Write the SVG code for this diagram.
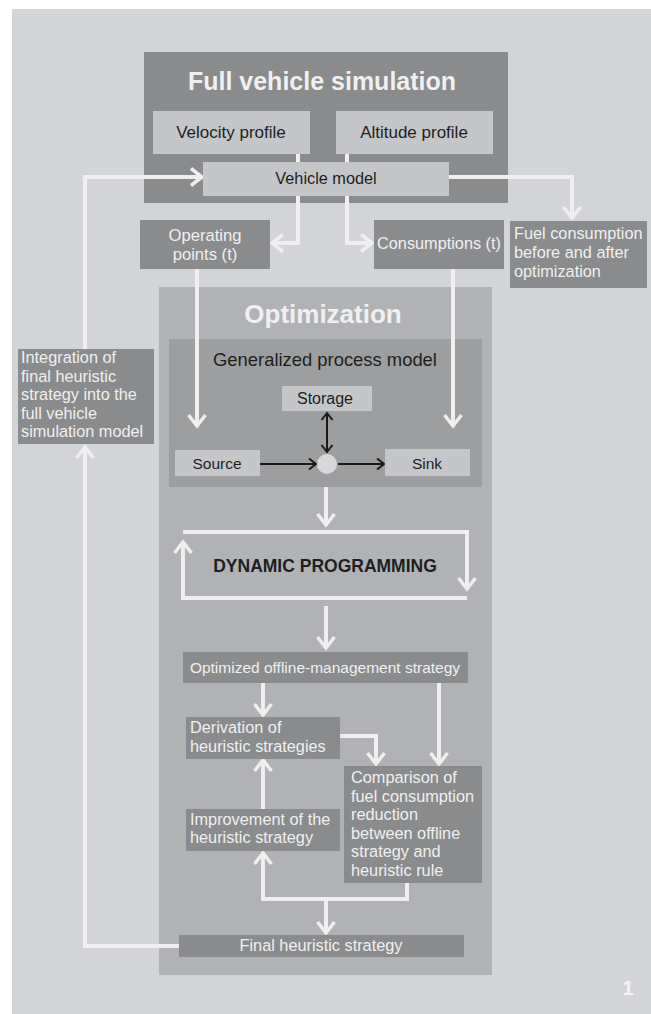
<svg xmlns="http://www.w3.org/2000/svg" width="651" height="1014" viewBox="0 0 651 1014">
<style>
.bg{fill:#d3d4d8}
.dark{fill:#8a8b8d}
.light{fill:#c5c6c9}
.opt{fill:#b1b2b5}
.gen{fill:#9d9ea0}
.t{font-family:"Liberation Sans",Arial,sans-serif;font-size:16.3px}
.tl{fill:#f0f0f0}
.td{fill:#1e1e1e}
.c{text-anchor:middle}
.title{font-family:"Liberation Sans",Arial,sans-serif;font-weight:bold;font-size:25px;fill:#f0f0f0;text-anchor:middle}
.w{fill:none;stroke:#efefef;stroke-width:4;stroke-linejoin:miter}
.k{fill:none;stroke:#1a1a1a;stroke-width:2}
</style>
<defs>
<marker id="aw" markerUnits="userSpaceOnUse" markerWidth="24" markerHeight="24" viewBox="-14 -12 18 24" refX="0" refY="0" orient="auto">
<path d="M-11,-8.5 L0,0 L-11,8.5" fill="none" stroke="#efefef" stroke-width="3.5"/>
</marker>
<marker id="ak" markerUnits="userSpaceOnUse" markerWidth="16" markerHeight="16" viewBox="-10 -8 12 16" refX="0" refY="0" orient="auto-start-reverse">
<path d="M-7,-5.5 L0,0 L-7,5.5" fill="none" stroke="#1a1a1a" stroke-width="2"/>
</marker>
</defs>
<rect x="0" y="0" width="651" height="1014" fill="#ffffff"/>
<rect class="bg" x="12" y="9" width="639" height="1005"/>

<g id="full-vehicle-simulation">
<rect class="dark" x="144" y="52" width="364" height="151"/>
<text class="title" x="322" y="90">Full vehicle simulation</text>
</g>
<g id="optimization">
<rect class="opt" x="159" y="287" width="333" height="688"/>
<text class="title" x="323" y="323" style="font-size:26px">Optimization</text>
</g>
<g id="generalized-process-model">
<rect class="gen" x="169" y="339" width="313" height="148"/>
<text class="t td c" x="325" y="366" style="font-size:18.4px">Generalized process model</text>
</g>

<g id="connectors">
<path class="w" d="M298,154 V243 H272" marker-end="url(#aw)"/>
<path class="w" d="M347,154 V243 H372" marker-end="url(#aw)"/>
<path class="w" d="M449,177 H572 V218" marker-end="url(#aw)"/>
<path class="w" d="M85,349 V177 H202" marker-end="url(#aw)"/>
<path class="w" d="M179,946 H85 V447" marker-end="url(#aw)"/>
<path class="w" d="M197,269 V426" marker-end="url(#aw)"/>
<path class="w" d="M453,269 V426" marker-end="url(#aw)"/>
<path class="w" d="M326,487 V525" marker-end="url(#aw)"/>
<path class="w" d="M183,532 H467 V589" marker-end="url(#aw)"/>
<path class="w" d="M467,598 H183 V542" marker-end="url(#aw)"/>
<path class="w" d="M326,606 V648" marker-end="url(#aw)"/>
<path class="w" d="M263,683 V715" marker-end="url(#aw)"/>
<path class="w" d="M439,683 V764" marker-end="url(#aw)"/>
<path class="w" d="M340,736 H376 V764" marker-end="url(#aw)"/>
<path class="w" d="M263,809 V760" marker-end="url(#aw)"/>
<path class="w" d="M407,883 V899 H263 V853" marker-end="url(#aw)"/>
<path class="w" d="M326,899 V933" marker-end="url(#aw)"/>
<path class="k" d="M260,464 H316" marker-end="url(#ak)"/>
<path class="k" d="M338,464 H384" marker-end="url(#ak)"/>
<path class="k" d="M327,413 V452" marker-start="url(#ak)" marker-end="url(#ak)"/>
</g>

<g id="velocity-profile">
<rect class="light" x="153" y="111" width="157" height="43"/>
<text class="t td c" x="231" y="138" style="font-size:17px">Velocity profile</text>
</g>
<g id="altitude-profile">
<rect class="light" x="336" y="111" width="157" height="43"/>
<text class="t td c" x="414" y="138" style="font-size:17px">Altitude profile</text>
</g>
<g id="vehicle-model">
<rect class="light" x="203" y="162" width="246" height="34"/>
<text class="t td c" x="326" y="184">Vehicle model</text>
</g>
<g id="operating-points">
<rect class="dark" x="140" y="220" width="130" height="49"/>
<text class="t tl c" x="205" y="241" style="font-size:16.6px">Operating</text>
<text class="t tl c" x="205" y="259.5" style="font-size:16.6px">points (t)</text>
</g>
<g id="consumptions">
<rect class="dark" x="374" y="220" width="130" height="49"/>
<text class="t tl c" x="439" y="249">Consumptions (t)</text>
</g>
<g id="fuel-consumption">
<rect class="dark" x="510" y="221" width="137" height="67"/>
<text class="t tl" x="514" y="239">Fuel consumption</text>
<text class="t tl" x="514" y="258">before and after</text>
<text class="t tl" x="514" y="277">optimization</text>
</g>
<g id="integration">
<rect class="dark" x="18" y="349" width="136" height="95"/>
<text class="t tl" x="21" y="363">Integration of</text>
<text class="t tl" x="21" y="381.5">final heuristic</text>
<text class="t tl" x="21" y="400">strategy into the</text>
<text class="t tl" x="21" y="418.5">full vehicle</text>
<text class="t tl" x="21" y="437">simulation model</text>
</g>
<g id="storage">
<rect class="light" x="282" y="386" width="90" height="25"/>
<text class="t td c" x="325" y="404" style="font-size:16px">Storage</text>
</g>
<g id="source">
<rect class="light" x="175" y="450" width="85" height="26"/>
<text class="t td c" x="217" y="469" style="font-size:15.5px">Source</text>
</g>
<g id="sink">
<rect class="light" x="385" y="449" width="85" height="27"/>
<text class="t td c" x="427" y="469" style="font-size:15.5px">Sink</text>
</g>
<g id="node">
<circle cx="327" cy="464" r="10" fill="#d8d8da"/>
</g>
<g id="dynamic-programming">
<text class="t td c" x="325" y="572" style="font-size:17.5px;font-weight:bold">DYNAMIC PROGRAMMING</text>
</g>
<g id="optimized-strategy">
<rect class="dark" x="183" y="652" width="285" height="31"/>
<text class="t tl c" x="325" y="673" style="font-size:15.5px">Optimized offline-management strategy</text>
</g>
<g id="derivation">
<rect class="dark" x="186" y="717" width="154" height="42"/>
<text class="t tl" x="190" y="733">Derivation of</text>
<text class="t tl" x="190" y="751.5">heuristic strategies</text>
</g>
<g id="improvement">
<rect class="dark" x="186" y="809" width="154" height="42"/>
<text class="t tl" x="190" y="824.5">Improvement of the</text>
<text class="t tl" x="190" y="843">heuristic strategy</text>
</g>
<g id="comparison">
<rect class="dark" x="344" y="766" width="138" height="117"/>
<text class="t tl" x="351" y="783">Comparison of</text>
<text class="t tl" x="351" y="801.5">fuel consumption</text>
<text class="t tl" x="351" y="820">reduction</text>
<text class="t tl" x="351" y="838.5">between offline</text>
<text class="t tl" x="351" y="857">strategy and</text>
<text class="t tl" x="351" y="875.5">heuristic rule</text>
</g>
<g id="final-heuristic-strategy">
<rect class="dark" x="179" y="935" width="285" height="22"/>
<text class="t tl c" x="321" y="951">Final heuristic strategy</text>
</g>
<text x="628" y="995" style="font-family:'Liberation Sans',Arial,sans-serif;font-weight:bold;font-size:21px;fill:#f2f2f4;text-anchor:middle">1</text>
</svg>
